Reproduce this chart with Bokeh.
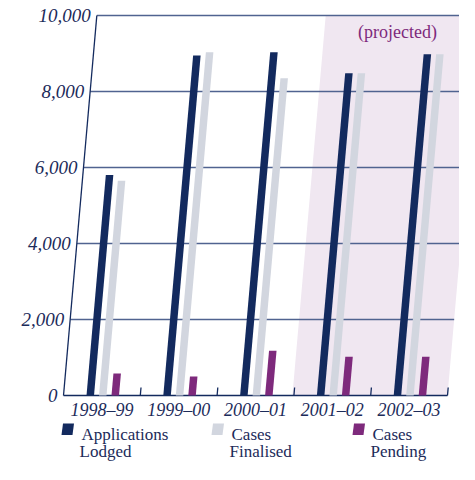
from bokeh.plotting import figure
from bokeh.models import Range1d
from bokeh.core.properties import value
from bokeh.embed import file_html
from bokeh.resources import INLINE

# ---- data ----
categories = ["1998–99", "1999–00", "2000–01", "2001–02", "2002–03"]
applications_lodged = [5800, 8950, 9030, 8480, 8980]
cases_finalised = [5650, 9030, 8350, 8480, 8980]
cases_pending = [580, 500, 1180, 1020, 1020]
y_ticks = [0, 2000, 4000, 6000, 8000, 10000]
y_tick_labels = ["0", "2,000", "4,000", "6,000", "8,000", "10,000"]
legend_lines = [["Applications", "Lodged"], ["Cases", "Finalised"], ["Cases", "Pending"]]
projected_first = 3
projected_label = "(projected)"

# ---- style / geometry ----
NAVY = "#132a5e"
LIGHT = "#d2d6df"
PURPLE = "#7e2a7c"
SHADE = "#f0e7f1"
GRID = "#506390"
TEXT = "#1c2b5a"
series_colors = [NAVY, LIGHT, PURPLE]

W, H = 459, 464
X0 = 63.0              # baseline start (px)
GW = 76.8              # group width (px)
Y0 = 395.0             # pixel row of value 0
YMAX = 10000
PXU = 380.0 / YMAX     # px per unit
K = 0.0877 * PXU       # horizontal shear, px per unit
BAR_OFF = [23.0, 35.5, 48.0]
BAR_W = 7.5


def vy(py):
    """picture y pixel -> value units"""
    return (Y0 - py) / PXU


p = figure(width=W, height=H, output_backend="svg", toolbar_location=None,
           x_range=Range1d(0, W), y_range=Range1d(vy(H), vy(0)))
p.axis.visible = False
p.grid.visible = False
p.outline_line_color = None
p.min_border = 0
p.background_fill_color = "white"

# projected shading
xb = X0 + projected_first * GW - 1.5
xe = X0 + len(categories) * GW
p.patch([xb, xe, xe + K * YMAX, xb + K * YMAX], [0, 0, YMAX, YMAX],
        fill_color=SHADE, line_color=None)

# gridlines
gx, gy = [], []
for t in y_ticks[1:]:
    gx.append([X0 + K * t, xe + K * t])
    gy.append([t, t])
p.multi_line(gx, gy, line_color=GRID, line_width=1.3)

# axis + baseline
p.line([X0, X0 + K * YMAX], [0, YMAX], line_color=NAVY, line_width=1.3)
p.line([X0, xe], [0, 0], line_color=NAVY, line_width=1.5)
tx, ty = [], []
th = 8 / PXU
for i in range(1, len(categories) + 1):
    bx = X0 + i * GW
    tx.append([bx, bx + K * th])
    ty.append([0, th])
p.multi_line(tx, ty, line_color=NAVY, line_width=1.3)

# bars
for si, series in enumerate([applications_lodged, cases_finalised, cases_pending]):
    xs, ys = [], []
    for ci, v in enumerate(series):
        b = X0 + ci * GW + BAR_OFF[si]
        xs.append([b, b + BAR_W, b + BAR_W + K * v, b + K * v])
        ys.append([0, 0, v, v])
    p.patches(xs, ys, fill_color=series_colors[si], line_color=None)

# y tick labels
p.text([X0 + K * t - 6 for t in y_ticks], y_ticks, text=y_tick_labels,
       text_align="right", text_baseline="middle", text_color=TEXT,
       text_font=value("Liberation Serif"), text_font_style="italic",
       text_font_size="19px")

# category labels
p.text([X0 + (i + 0.5) * GW for i in range(len(categories))],
       [vy(Y0 + 14)] * len(categories), text=categories,
       text_align="center", text_baseline="middle", text_color=TEXT,
       text_font=value("Liberation Serif"), text_font_style="italic",
       text_font_size="18px")

# projected label
p.text([397], [vy(31)], text=[projected_label], text_align="center",
       text_baseline="middle", text_color=PURPLE,
       text_font=value("Liberation Serif"), text_font_size="18px")

# legend (kept inside the canvas)
leg_x = [61, 211, 352]
b1, b2 = 434, 451
for li, (lines, col) in enumerate(zip(legend_lines, series_colors)):
    sx = leg_x[li]
    p.patch([sx, sx + 11, sx + 12.5, sx + 1.5],
            [vy(b1 + 0.5), vy(b1 + 0.5), vy(b1 - 11), vy(b1 - 11)],
            fill_color=col, line_color=None)
    p.text([sx + 20, sx + 18], [vy(b1), vy(b2)], text=lines,
           text_align="left", text_baseline="alphabetic", text_color=TEXT,
           text_font=value("Liberation Serif"), text_font_size="17px")

open("out.html", "w").write(file_html(p, INLINE))
